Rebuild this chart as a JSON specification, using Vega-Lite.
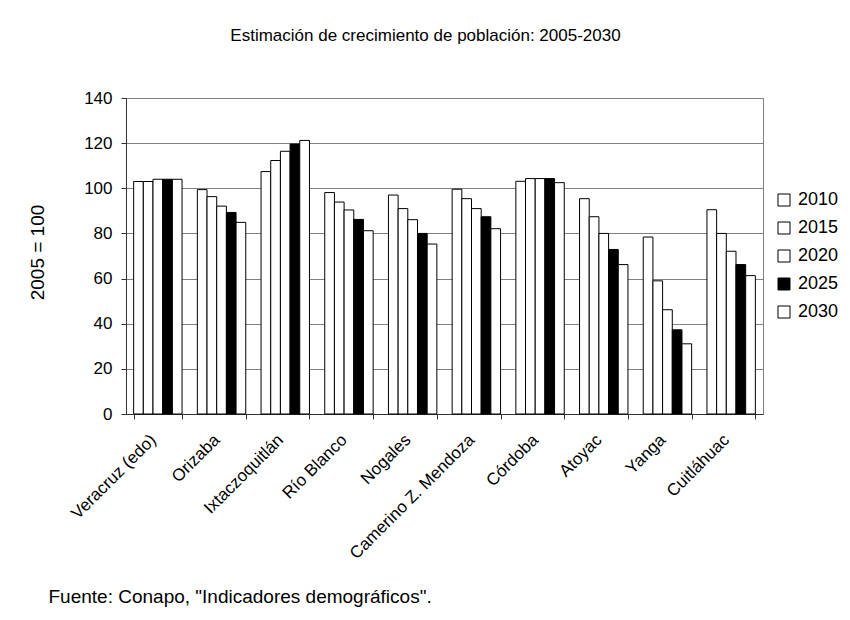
{
  "$schema": "https://vega.github.io/schema/vega-lite/v6.json",
  "width": 637,
  "height": 316,
  "autosize": {"type": "none"},
  "padding": {"left": 126, "top": 98, "right": 87, "bottom": 206},
  "background": "white",
  "title": {
    "text": "Estimación de crecimiento de población: 2005-2030",
    "anchor": "middle",
    "dx": -19,
    "offset": 31,
    "baseline": "alphabetic",
    "font": "Liberation Sans",
    "fontSize": 17,
    "fontWeight": "normal",
    "color": "black"
  },
  "data": {
    "values": [
      {"lugar": "Veracruz (edo)", "year": "2010", "v": 103},
      {"lugar": "Veracruz (edo)", "year": "2015", "v": 103},
      {"lugar": "Veracruz (edo)", "year": "2020", "v": 104},
      {"lugar": "Veracruz (edo)", "year": "2025", "v": 104},
      {"lugar": "Veracruz (edo)", "year": "2030", "v": 104},
      {"lugar": "Orizaba", "year": "2010", "v": 99.4},
      {"lugar": "Orizaba", "year": "2015", "v": 96.3},
      {"lugar": "Orizaba", "year": "2020", "v": 92.1},
      {"lugar": "Orizaba", "year": "2025", "v": 89.3},
      {"lugar": "Orizaba", "year": "2030", "v": 84.9},
      {"lugar": "Ixtaczoquitlán", "year": "2010", "v": 107.4},
      {"lugar": "Ixtaczoquitlán", "year": "2015", "v": 112.3},
      {"lugar": "Ixtaczoquitlán", "year": "2020", "v": 116.4},
      {"lugar": "Ixtaczoquitlán", "year": "2025", "v": 119.6},
      {"lugar": "Ixtaczoquitlán", "year": "2030", "v": 121.2},
      {"lugar": "Río Blanco", "year": "2010", "v": 98.1},
      {"lugar": "Río Blanco", "year": "2015", "v": 93.9},
      {"lugar": "Río Blanco", "year": "2020", "v": 90.4},
      {"lugar": "Río Blanco", "year": "2025", "v": 86.2},
      {"lugar": "Río Blanco", "year": "2030", "v": 81.2},
      {"lugar": "Nogales", "year": "2010", "v": 97.0},
      {"lugar": "Nogales", "year": "2015", "v": 91.0},
      {"lugar": "Nogales", "year": "2020", "v": 86.1},
      {"lugar": "Nogales", "year": "2025", "v": 80.0},
      {"lugar": "Nogales", "year": "2030", "v": 75.3},
      {"lugar": "Camerino Z. Mendoza", "year": "2010", "v": 99.6},
      {"lugar": "Camerino Z. Mendoza", "year": "2015", "v": 95.4},
      {"lugar": "Camerino Z. Mendoza", "year": "2020", "v": 91.0},
      {"lugar": "Camerino Z. Mendoza", "year": "2025", "v": 87.4},
      {"lugar": "Camerino Z. Mendoza", "year": "2030", "v": 82.1},
      {"lugar": "Córdoba", "year": "2010", "v": 103.1},
      {"lugar": "Córdoba", "year": "2015", "v": 104.3},
      {"lugar": "Córdoba", "year": "2020", "v": 104.3},
      {"lugar": "Córdoba", "year": "2025", "v": 104.3},
      {"lugar": "Córdoba", "year": "2030", "v": 102.5},
      {"lugar": "Atoyac", "year": "2010", "v": 95.4},
      {"lugar": "Atoyac", "year": "2015", "v": 87.4},
      {"lugar": "Atoyac", "year": "2020", "v": 80.0},
      {"lugar": "Atoyac", "year": "2025", "v": 72.9},
      {"lugar": "Atoyac", "year": "2030", "v": 66.2},
      {"lugar": "Yanga", "year": "2010", "v": 78.4},
      {"lugar": "Yanga", "year": "2015", "v": 59.0},
      {"lugar": "Yanga", "year": "2020", "v": 46.2},
      {"lugar": "Yanga", "year": "2025", "v": 37.3},
      {"lugar": "Yanga", "year": "2030", "v": 31.1},
      {"lugar": "Cuitláhuac", "year": "2010", "v": 90.5},
      {"lugar": "Cuitláhuac", "year": "2015", "v": 80.0},
      {"lugar": "Cuitláhuac", "year": "2020", "v": 72.1},
      {"lugar": "Cuitláhuac", "year": "2025", "v": 66.2},
      {"lugar": "Cuitláhuac", "year": "2030", "v": 61.3}
    ]
  },
  "mark": {"type": "bar", "stroke": "black", "strokeWidth": 1},
  "encoding": {
    "x": {
      "field": "lugar",
      "type": "nominal",
      "sort": null,
      "scale": {"paddingInner": 0.24, "paddingOuter": 0.12},
      "axis": {
        "title": "Fuente: Conapo, \"Indicadores demográficos\".",
        "titleX": -78,
        "titleY": 188,
        "titleAlign": "left",
        "titleAnchor": "start",
        "titleBaseline": "alphabetic",
        "titleFontSize": 19,
        "titleFontWeight": "normal",
        "labelAngle": -45,
        "labelAlign": "right",
        "labelBaseline": "middle",
        "labelFontSize": 17,
        "labelPadding": 18,
        "labelOffset": -5,
        "tickBand": "extent",
        "tickSize": 5,
        "grid": false
      }
    },
    "xOffset": {"field": "year", "type": "nominal", "scale": {"paddingInner": 0, "paddingOuter": 0}},
    "y": {
      "field": "v",
      "type": "quantitative",
      "scale": {"domain": [0, 140], "nice": false},
      "axis": {
        "title": "2005 = 100",
        "values": [0, 20, 40, 60, 80, 100, 120, 140],
        "titleFontSize": 19,
        "titleFontWeight": "normal",
        "titleX": -79,
        "titleY": 154,
        "labelFontSize": 17,
        "labelPadding": 9,
        "tickSize": 5,
        "grid": true
      }
    },
    "color": {
      "field": "year",
      "type": "nominal",
      "scale": {"domain": ["2010", "2015", "2020", "2025", "2030"], "range": ["white", "white", "white", "black", "white"]},
      "legend": {
        "title": null,
        "orient": "none",
        "legendX": 649,
        "legendY": 93,
        "symbolType": "square",
        "symbolSize": 144,
        "symbolStrokeColor": "black",
        "symbolStrokeWidth": 1,
        "labelFontSize": 18,
        "labelOffset": 5,
        "rowPadding": 10
      }
    }
  },
  "config": {
    "font": "Liberation Sans",
    "view": {"stroke": "#808080", "strokeWidth": 1},
    "axis": {
      "labelColor": "black",
      "titleColor": "black",
      "labelFont": "Liberation Sans",
      "titleFont": "Liberation Sans",
      "domainColor": "#333333",
      "tickColor": "#333333",
      "gridColor": "#808080",
      "gridWidth": 1
    },
    "legend": {"labelColor": "black", "labelFont": "Liberation Sans"}
  }
}
